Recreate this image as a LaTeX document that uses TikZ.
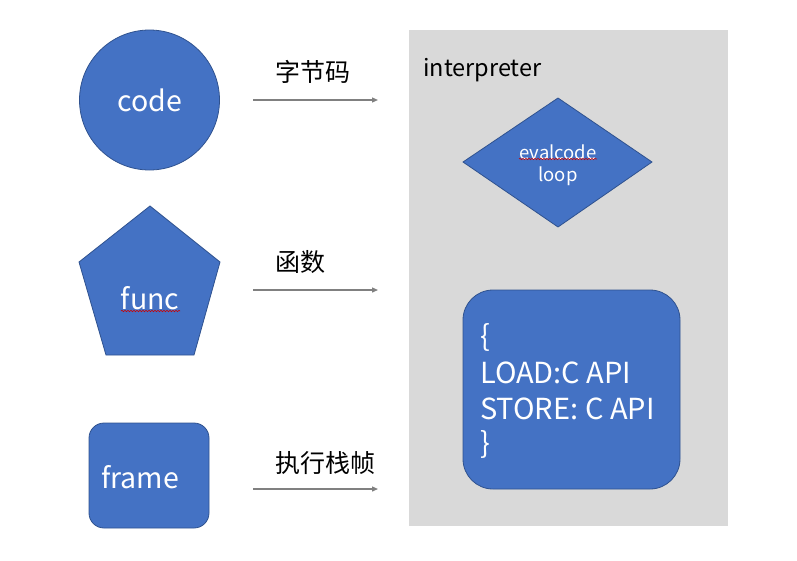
\documentclass[tikz,border=0pt]{standalone}
\usepackage{fontspec}
\setmainfont{Noto Sans CJK SC}
\usetikzlibrary{shapes.geometric,arrows.meta,decorations.pathmorphing}
\definecolor{shapeblue}{HTML}{4472C4}
\definecolor{shapeedge}{HTML}{2F528F}
\definecolor{panelgray}{HTML}{D9D9D9}
\definecolor{arrowgray}{HTML}{808080}
\tikzset{
  blueshape/.style={fill=shapeblue,draw=shapeedge,line width=0.8pt},
  whitetext/.style={text=white,inner sep=0pt},
  flowarrow/.style={draw=arrowgray,line width=1.3pt,-{Triangle[length=6pt,width=5pt]}},
  cnlabel/.style={anchor=west,inner sep=0pt,font=\fontsize{25}{29}\selectfont},
  squiggle/.style={draw=red!80!black,line width=0.6pt,decorate,decoration={snake,amplitude=0.7pt,segment length=3pt}}
}
\begin{document}
\begin{tikzpicture}[x=1pt,y=-1pt]
\useasboundingbox (0,0) rectangle (797,560);
% panel
\fill[panelgray] (409,30) rectangle (728,526);
\node[anchor=west,inner sep=0pt,font=\fontsize{23.5}{27}\selectfont] (interp) at (423,70) {interpreter};
% code circle
\node[blueshape,circle,minimum size=140pt,inner sep=0pt] (code) at (149.5,100) {};
\node[whitetext,font=\fontsize{28.5}{32}\selectfont] (codetext) at (149.5,100) {code};
% pentagon
\coordinate (p1) at (150,206);
\coordinate (p2) at (220,262);
\coordinate (p3) at (194,355);
\coordinate (p4) at (106,355);
\coordinate (p5) at (79,262);
\draw[blueshape] (p1) -- (p2) -- (p3) -- (p4) -- (p5) -- cycle;
\node[whitetext,font=\fontsize{28.5}{32}\selectfont] (functext) at (150,298) {func};
\coordinate (fs1) at (121,311);
\coordinate (fs2) at (180,311);
\draw[squiggle] (fs1) -- (fs2);
% frame
\node[blueshape,rectangle,rounded corners=15pt,minimum width=120pt,minimum height=105pt] (frame) at (149,475.5) {};
\node[whitetext,anchor=west,font=\fontsize{28.5}{32}\selectfont] (frametext) at (101,477) {frame};
% arrows
\coordinate (a1s) at (253,100); \coordinate (a1e) at (378,100);
\coordinate (a2s) at (253,290); \coordinate (a2e) at (378,290);
\coordinate (a3s) at (253,489); \coordinate (a3e) at (378,489);
\draw[flowarrow] (a1s) -- (a1e);
\draw[flowarrow] (a2s) -- (a2e);
\draw[flowarrow] (a3s) -- (a3e);
\node[cnlabel] (l1) at (275,72) {字节码};
\node[cnlabel] (l2) at (275,262) {函数};
\node[cnlabel] (l3) at (275,463) {执行栈帧};
% diamond
\coordinate (d1) at (558,98);
\coordinate (d2) at (652,162);
\coordinate (d3) at (558,227);
\coordinate (d4) at (463,162);
\draw[blueshape] (d1) -- (d2) -- (d3) -- (d4) -- cycle;
\node[whitetext,font=\fontsize{18.5}{21}\selectfont] (evaltext) at (558,152) {evalcode};
\node[whitetext,font=\fontsize{18.5}{21}\selectfont] (looptext) at (558,176) {loop};
\coordinate (es1) at (519,159);
\coordinate (es2) at (597,159);
\draw[squiggle] (es1) -- (es2);
% api box
\node[blueshape,rectangle,rounded corners=30pt,minimum width=217pt,minimum height=199pt] (api) at (571.5,389.5) {};
\node[whitetext,anchor=west,font=\fontsize{29}{36}\selectfont] (b1) at (480,337) {\{};
\node[whitetext,anchor=west,font=\fontsize{29}{36}\selectfont] (b2) at (480,373) {LOAD:C API};
\node[whitetext,anchor=west,font=\fontsize{29}{36}\selectfont] (b3) at (480,409) {STORE: C API};
\node[whitetext,anchor=west,font=\fontsize{29}{36}\selectfont] (b4) at (480,444) {\}};
\end{tikzpicture}
\end{document}
